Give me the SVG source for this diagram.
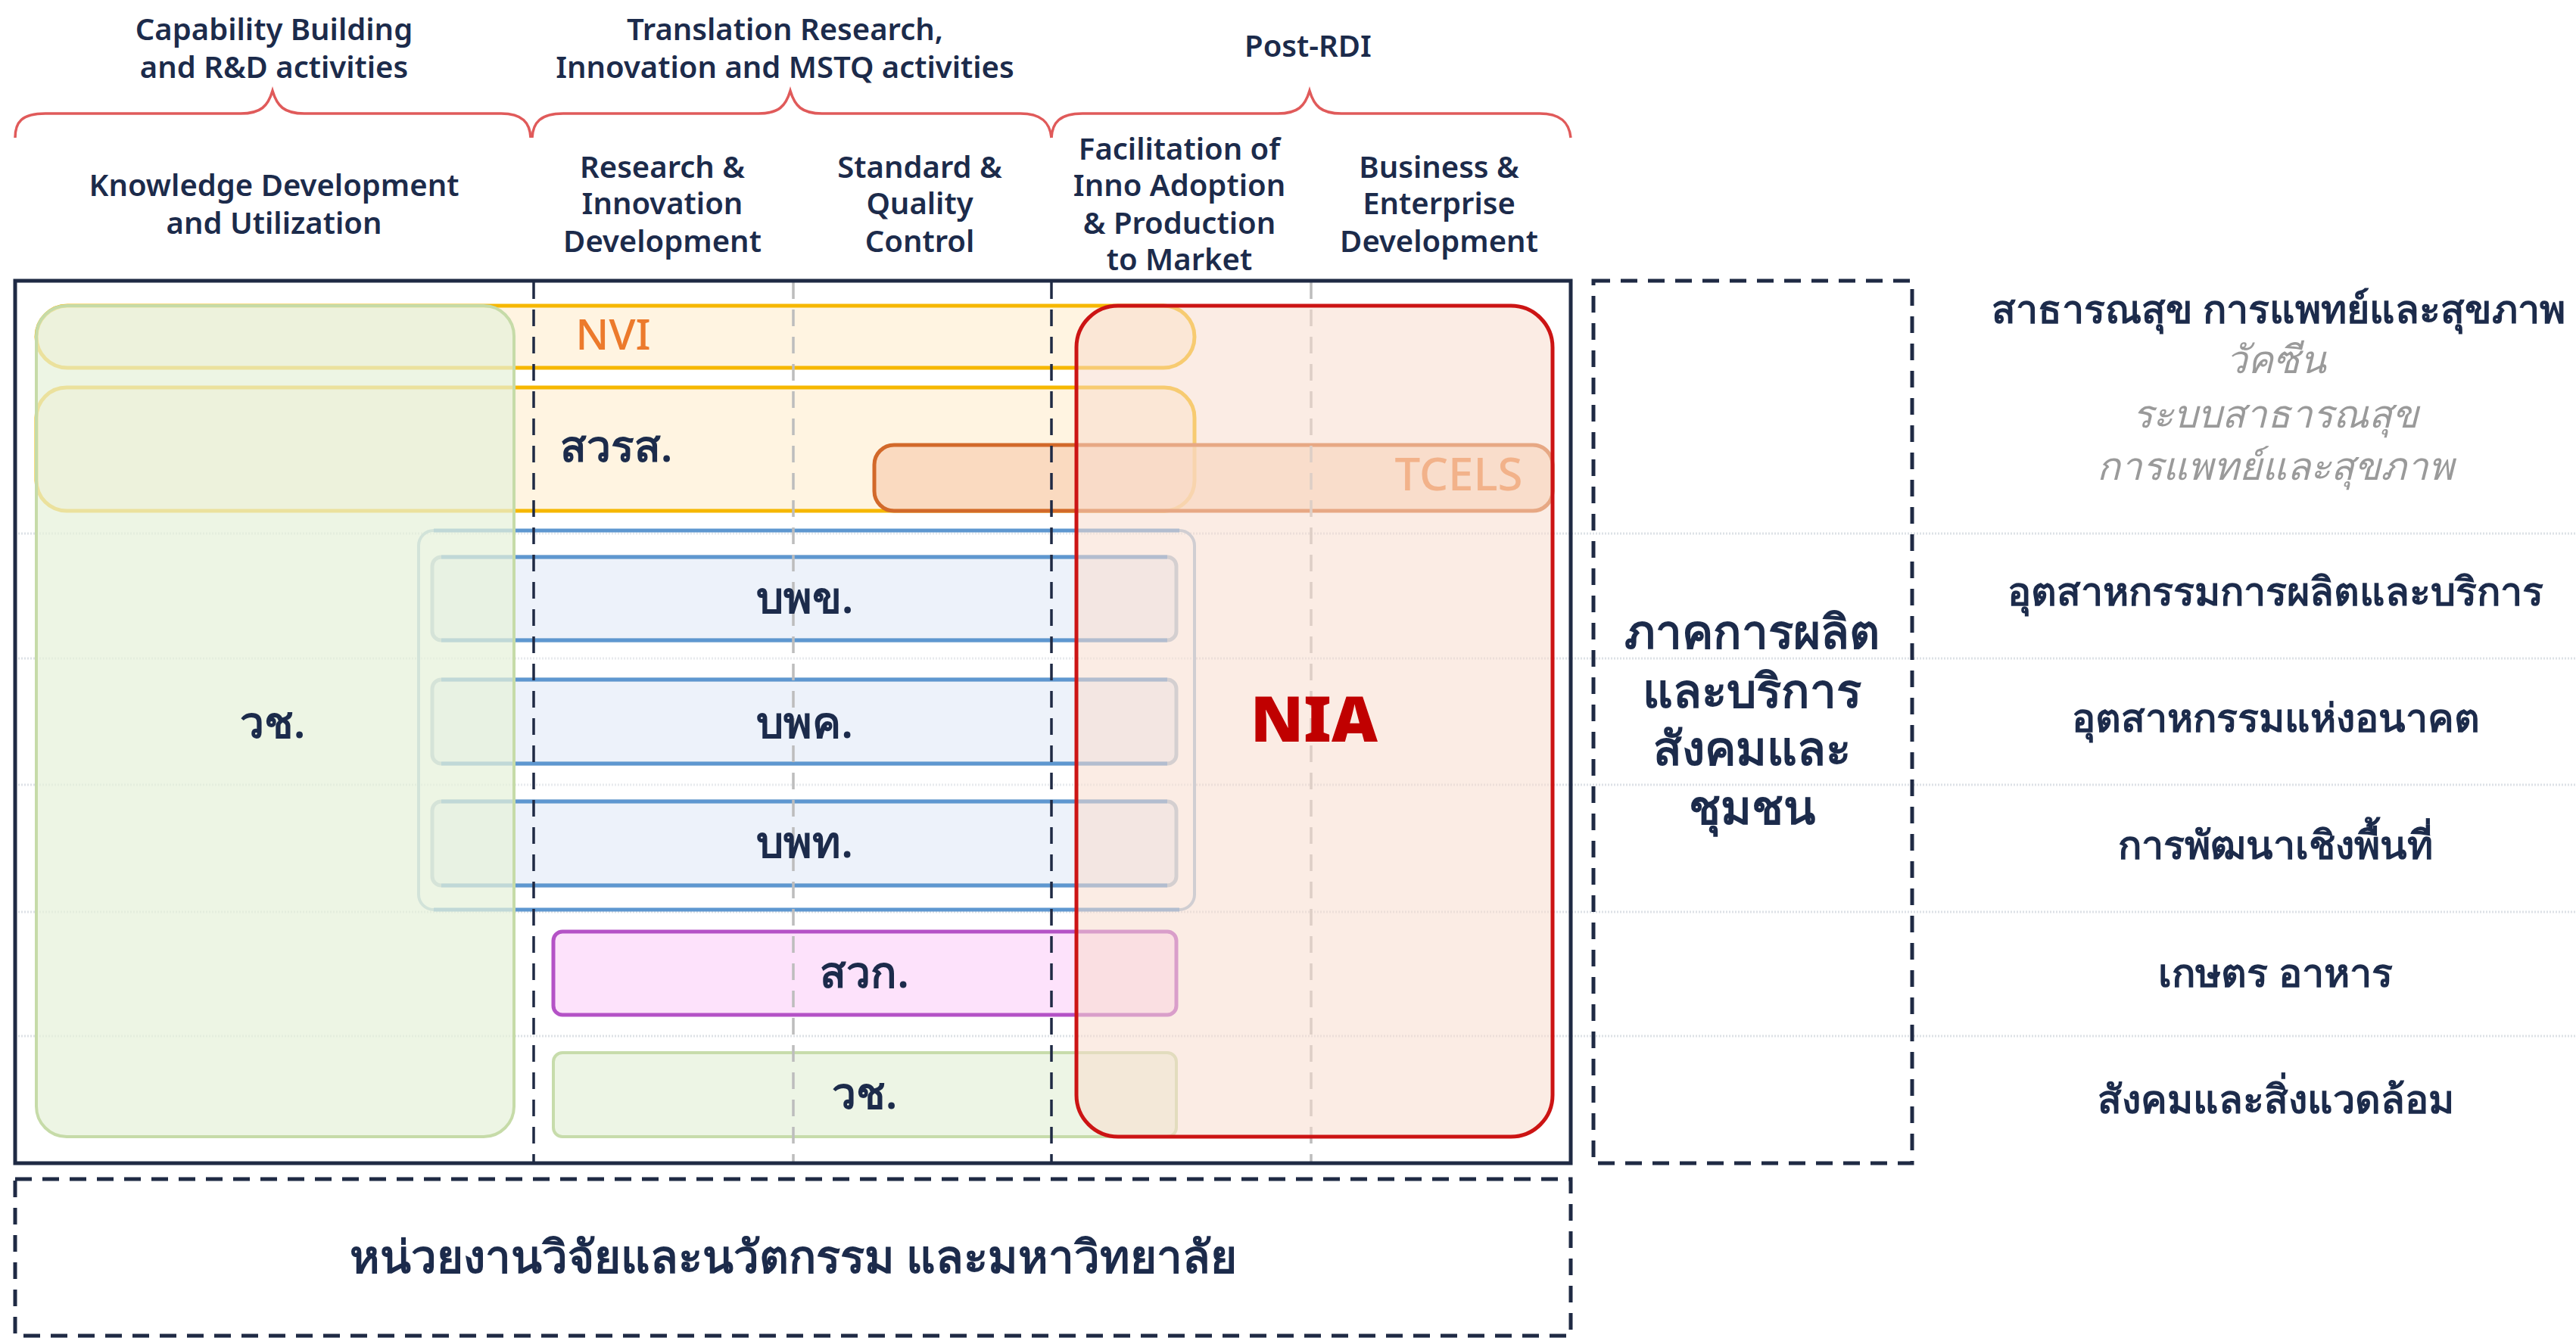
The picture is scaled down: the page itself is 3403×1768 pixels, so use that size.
<svg xmlns="http://www.w3.org/2000/svg" width="3403" height="1768" viewBox="0 0 3403 1768">
<defs>
<style>
.hdr{font-family:"Noto Sans","Open Sans","DejaVu Sans",sans-serif;font-weight:600;font-size:40px;fill:#1c2b4b;text-anchor:middle}
.lbl{font-family:"Noto Sans","DejaVu Sans",sans-serif;font-weight:600;font-size:57px;fill:#1c2b4b;text-anchor:middle}
.big{font-size:60px}
.side{font-size:62px}
.sec{font-family:"Noto Sans","DejaVu Sans",sans-serif;font-weight:600;font-size:52px;fill:#1c2b4b;text-anchor:middle}
.sub{font-family:"Noto Sans","DejaVu Sans",sans-serif;font-style:italic;font-size:51px;fill:#9a9a9a;text-anchor:middle}
.brace{fill:none;stroke:#e05a5a;stroke-width:3.5}
.row{stroke:#dde1e6;stroke-width:3;stroke-dasharray:2 2}
.vdark{stroke:#1f2a44;stroke-width:3.5;stroke-dasharray:22 14}
.vgray{stroke:#bdbdbd;stroke-width:3.5;stroke-dasharray:22 14}
.dash{fill:none;stroke:#1f2a44;stroke-width:5;stroke-dasharray:22 14}
.yel{fill:#fff4e1;stroke:#f6b700;stroke-width:5}
.blueo{fill:#ffffff;fill-opacity:0.3;stroke:#9fbdd8;stroke-width:4}
.bluei{fill:#edf2fa;stroke:#a9bfd3;stroke-width:5}
.bedge{stroke:#5e97d0;stroke-width:5}
</style>
</defs>
<rect width="3403" height="1768" fill="#ffffff"/>

<g id="headers">
<text class="hdr" x="362" y="53">Capability Building</text>
<text class="hdr" x="362" y="103">and R&amp;D activities</text>
<text class="hdr" x="1037" y="53">Translation Research,</text>
<text class="hdr" x="1037" y="103">Innovation and MSTQ activities</text>
<text class="hdr" x="1728" y="75">Post-RDI</text>
<path class="brace" d="M20,182 C20,162 28,150 60,150 L318,150 C345,150 354,140 360,120 C366,140 375,150 402,150 L662,150 C690,150 700,162 701,182"/>
<path class="brace" d="M703,182 C704,162 714,150 744,150 L1002,150 C1029,150 1038,140 1044,120 C1050,140 1059,150 1086,150 L1348,150 C1376,150 1387,162 1389,182"/>
<path class="brace" d="M1389,182 C1390,162 1400,150 1430,150 L1688,150 C1715,150 1724,140 1730,120 C1736,140 1745,150 1772,150 L2034,150 C2062,150 2073,162 2075,182"/>
<text class="hdr" x="362" y="259">Knowledge Development</text>
<text class="hdr" x="362" y="309">and Utilization</text>
<text class="hdr" x="875" y="235">Research &amp;</text>
<text class="hdr" x="875" y="283">Innovation</text>
<text class="hdr" x="875" y="333">Development</text>
<text class="hdr" x="1215" y="235">Standard &amp;</text>
<text class="hdr" x="1215" y="283">Quality</text>
<text class="hdr" x="1215" y="333">Control</text>
<text class="hdr" x="1558" y="211">Facilitation of</text>
<text class="hdr" x="1558" y="259">Inno Adoption</text>
<text class="hdr" x="1558" y="309">&amp; Production</text>
<text class="hdr" x="1558" y="357">to Market</text>
<text class="hdr" x="1901" y="235">Business &amp;</text>
<text class="hdr" x="1901" y="283">Enterprise</text>
<text class="hdr" x="1901" y="333">Development</text>
</g>

<g id="grid">
<line class="row" x1="20" y1="705" x2="3403" y2="705"/>
<line class="row" x1="20" y1="870" x2="3403" y2="870"/>
<line class="row" x1="20" y1="1037" x2="3403" y2="1037"/>
<line class="row" x1="20" y1="1205" x2="3403" y2="1205"/>
<line class="row" x1="20" y1="1369" x2="3403" y2="1369"/>
</g>

<g id="nvi"><rect class="yel" x="48" y="404" width="1530" height="82" rx="41"/></g>
<g id="hsri"><rect class="yel" x="48" y="512" width="1530" height="163" rx="40"/></g>
<g id="pmu-group"><rect class="blueo" x="553" y="701" width="1025" height="501" rx="20"/>
<line class="bedge" x1="573" y1="701" x2="1558" y2="701"/><line class="bedge" x1="573" y1="1202" x2="1558" y2="1202"/></g>
<g id="pmuc"><rect class="bluei" x="571" y="736" width="983" height="110" rx="12"/>
<line class="bedge" x1="583" y1="736" x2="1542" y2="736"/><line class="bedge" x1="583" y1="846" x2="1542" y2="846"/></g>
<g id="pmuh"><rect class="bluei" x="571" y="898" width="983" height="111" rx="12"/>
<line class="bedge" x1="583" y1="898" x2="1542" y2="898"/><line class="bedge" x1="583" y1="1009" x2="1542" y2="1009"/></g>
<g id="pmua"><rect class="bluei" x="571" y="1059" width="983" height="111" rx="12"/>
<line class="bedge" x1="583" y1="1059" x2="1542" y2="1059"/><line class="bedge" x1="583" y1="1170" x2="1542" y2="1170"/></g>
<g id="ard"><rect x="731" y="1231" width="823" height="110" rx="12" fill="#fde2fb" stroke="#b452c6" stroke-width="5"/></g>
<g id="nrct-small"><rect x="731" y="1391" width="823" height="111" rx="12" fill="#edf5e5" stroke="#c7dcab" stroke-width="4"/></g>
<g id="tcels"><rect x="1155" y="588" width="896" height="87" rx="26" fill="#f8d2b4" fill-opacity="0.75" stroke="#d2692a" stroke-width="5"/></g>

<g id="vlines">
<line class="vdark" x1="705" y1="373" x2="705" y2="1535"/>
<line class="vgray" x1="1048" y1="373" x2="1048" y2="1535"/>
<line class="vdark" x1="1389" y1="373" x2="1389" y2="1535"/>
<line class="vgray" x1="1732" y1="373" x2="1732" y2="1535"/>
</g>

<g id="nrct"><rect x="48" y="404" width="631" height="1098" rx="40" fill="#e6f1da" fill-opacity="0.72" stroke="#c6dba8" stroke-width="4"/></g>
<g id="nia"><rect x="1422" y="404" width="629" height="1098" rx="55" fill="#f7dccd" fill-opacity="0.55" stroke="#cc1414" stroke-width="5"/></g>

<g id="frame"><rect x="20" y="371" width="2055" height="1166" fill="none" stroke="#1f2a44" stroke-width="5"/></g>

<g id="labels">
<text x="810" y="462" font-family="Noto Sans, DejaVu Sans, sans-serif" font-size="57" font-weight="500" fill="#ec7a2c" text-anchor="middle">NVI</text>
<text class="lbl" x="814" y="610">สวรส.</text>
<text x="1927" y="648" font-family="Noto Sans, DejaVu Sans, sans-serif" font-size="60" font-weight="500" fill="#f2b28a" text-anchor="middle">TCELS</text>
<text class="lbl" x="1063" y="810">บพข.</text>
<text class="lbl" x="1063" y="975">บพค.</text>
<text class="lbl" x="1063" y="1133">บพท.</text>
<text class="lbl" x="1142" y="1305">สวก.</text>
<text class="lbl" x="1142" y="1465">วช.</text>
<text class="lbl" x="360" y="975">วช.</text>
<text x="1736" y="980" font-family="Noto Sans, DejaVu Sans, sans-serif" font-size="84" font-weight="900" fill="#c00000" text-anchor="middle">NIA</text>
</g>

<g id="universities">
<rect class="dash" x="20" y="1558" width="2055" height="207"/>
<text class="lbl big" x="1048" y="1682">หน่วยงานวิจัยและนวัตกรรม และมหาวิทยาลัย</text>
</g>

<g id="sector">
<rect class="dash" x="2105" y="371" width="421" height="1166"/>
<text class="lbl side" x="2314" y="857">ภาคการผลิต</text>
<text class="lbl side" x="2314" y="935">และบริการ</text>
<text class="lbl side" x="2314" y="1011">สังคมและ</text>
<text class="lbl side" x="2314" y="1089">ชุมชน</text>
</g>

<g id="sectors-list">
<text class="sec" x="3010" y="427">สาธารณสุข การแพทย์และสุขภาพ</text>
<text class="sub" x="3006" y="493">วัคซีน</text>
<text class="sub" x="3006" y="565">ระบบสาธารณสุข</text>
<text class="sub" x="3006" y="634">การแพทย์และสุขภาพ</text>
<text class="sec" x="3006" y="800">อุตสาหกรรมการผลิตและบริการ</text>
<text class="sec" x="3006" y="967">อุตสาหกรรมแห่งอนาคต</text>
<text class="sec" x="3006" y="1135">การพัฒนาเชิงพื้นที่</text>
<text class="sec" x="3006" y="1304">เกษตร อาหาร</text>
<text class="sec" x="3006" y="1471">สังคมและสิ่งแวดล้อม</text>
</g>
</svg>
